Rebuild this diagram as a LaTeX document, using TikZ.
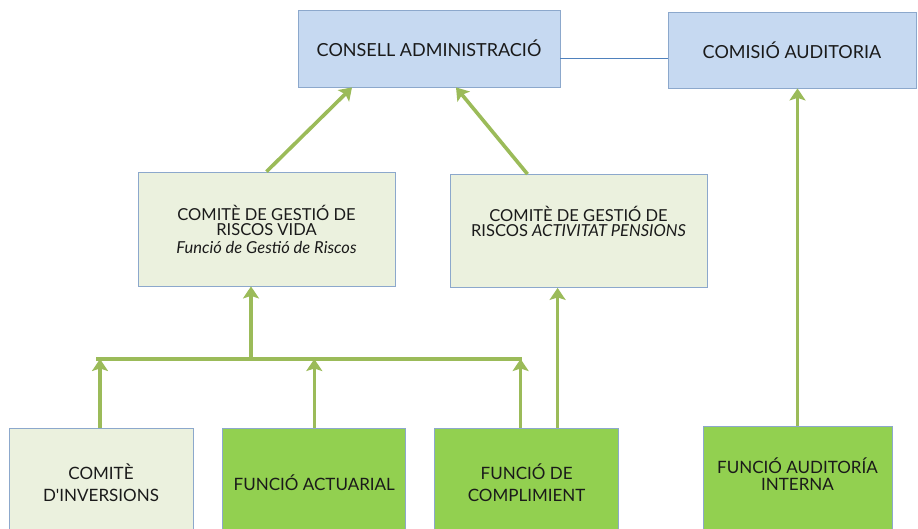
\documentclass[tikz,border=0pt]{standalone}
\usepackage{fontspec}
\setmainfont{Lato}
\usetikzlibrary{arrows.meta}
\usetikzlibrary{positioning,calc}

\definecolor{boardblue}{RGB}{198,217,241}
\definecolor{palegreen}{RGB}{235,241,222}
\definecolor{funcgreen}{RGB}{146,208,80}
\definecolor{edgeblue}{RGB}{140,168,204}
\definecolor{arrgreen}{RGB}{155,187,89}
\definecolor{tieblue}{RGB}{79,129,189}
\definecolor{inkgray}{RGB}{26,26,26}

\begin{document}
\begin{tikzpicture}[
  x=1pt, y=-1pt,
  box/.style={rectangle,draw=edgeblue,line width=0.8pt,inner sep=0pt,
    align=center,text=inkgray},
  topbox/.style={box,fill=boardblue,minimum height=77pt,
    font=\fontsize{18}{20}\selectfont},
  riskbox/.style={box,fill=palegreen,minimum width=257pt,minimum height=114pt,
    font=\fontsize{16.5}{15}\selectfont},
  funcbox/.style={box,fill=funcgreen,minimum width=184pt,minimum height=110pt,
    font=\fontsize{17}{22}\selectfont},
  arr/.style={draw=arrgreen,line width=3.6pt,
    -{Stealth[length=12pt,width=16pt,inset=2.5pt]}},
  bus/.style={draw=arrgreen,line width=3.6pt}
]
\useasboundingbox (0,0) rectangle (918,528);

% --- governing bodies ---
\node[topbox,minimum width=262pt] (cons)   at (429,48.5) {CONSELL ADMINISTRACIÓ};
\node[topbox,minimum width=248pt,minimum height=76pt] (audcom) at (792,50) {COMISIÓ AUDITORIA};

% --- risk committees ---
\node[riskbox] (vida) at (266.5,229)
  {COMITÈ DE GESTIÓ DE\\RISCOS VIDA\\[3pt]\textit{Funció de Gestió de Riscos}};
\node[riskbox,minimum height=113pt] (pens) at (578.5,231)
  {COMITÈ DE GESTIÓ DE\\RISCOS \textit{ACTIVITAT PENSIONS}\\[4pt]\mbox{}};

% --- functions ---
\node[funcbox,fill=palegreen] (inv) at (101,483) {COMITÈ\\D\textquotesingle INVERSIONS};
\node[funcbox,minimum width=183pt,right=29pt of inv] (act) {FUNCIÓ ACTUARIAL};
\node[funcbox,right=28pt of act] (comp) {FUNCIÓ DE\\COMPLIMIENT};
\node[funcbox,minimum width=189pt,anchor=north,
  font=\fontsize{17}{17}\selectfont] (audint) at (797.5,426)
  {FUNCIÓ AUDITORÍA\\INTERNA\\[-2pt]\mbox{}};

% --- links ---
\coordinate (busl) at (96,359);
\coordinate (busr) at (522,359);
\coordinate (busm) at (251,359);
\coordinate (tie) at ($(cons.east)+(0,9.5)$);

\draw[tieblue,line width=0.9pt] (tie) -- (tie -| audcom.west);
\draw[bus] (busl) -- (busr);
\draw[arr] (busm) -- (busm |- vida.south);
\draw[arr] ([xshift=-1pt]inv.north) -- ([xshift=-1pt]inv.north |- busl);
\draw[arr] (act.north) -- (act.north |- busl);
\draw[arr] ([xshift=-6pt]comp.north) -- ([xshift=-6pt]comp.north |- busl);
\draw[arr] ([xshift=31pt]comp.north) -- ([xshift=31pt]comp.north |- pens.south);
\draw[arr] (vida.north) -- ([xshift=-77pt]cons.south);
\draw[arr] ([xshift=-51pt]pens.north) -- ([xshift=27pt]cons.south);
\draw[arr] (audint.north) -- (audint.north |- audcom.south);

\end{tikzpicture}
\end{document}
